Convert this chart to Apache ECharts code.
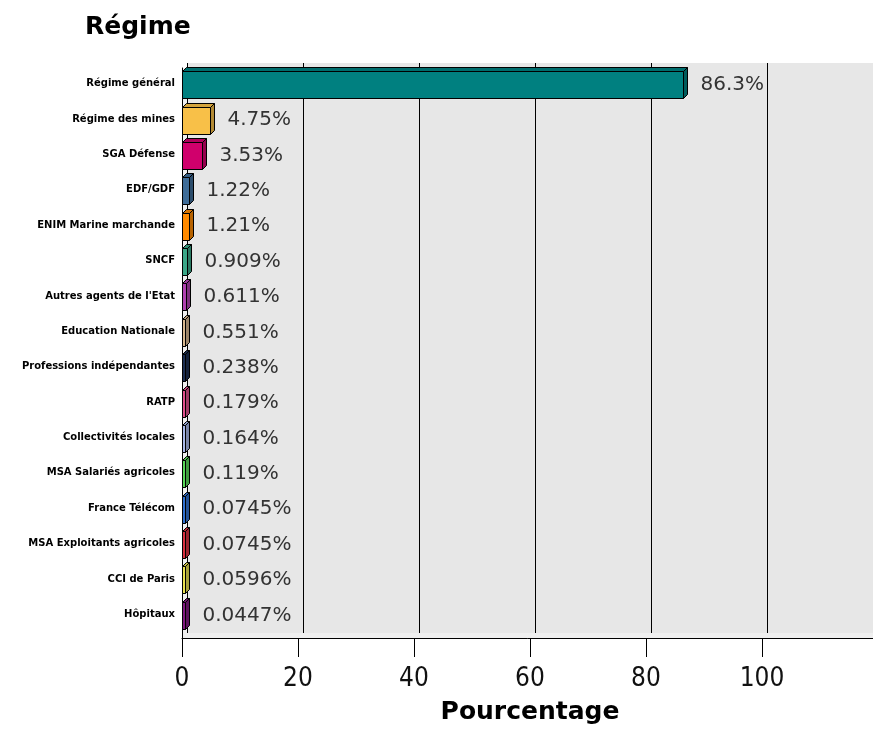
<!DOCTYPE html>
<html><head><meta charset="utf-8">
<script src="https://cdn.jsdelivr.net/npm/echarts@6/dist/echarts.min.js"></script>
<style>html,body{margin:0;padding:0;background:#fff}#c{width:873px;height:729px}</style>
</head><body><div id="c"></div>
<script>
const categories = ["Régime général","Régime des mines","SGA Défense","EDF/GDF","ENIM Marine marchande","SNCF","Autres agents de l'Etat","Education Nationale","Professions indépendantes","RATP","Collectivités locales","MSA Salariés agricoles","France Télécom","MSA Exploitants agricoles","CCI de Paris","Hôpitaux"];
const values = [86.3, 4.75, 3.53, 1.22, 1.21, 0.909, 0.611, 0.551, 0.238, 0.179, 0.164, 0.119, 0.0745, 0.0745, 0.0596, 0.0447];
const barColors = ['#008080','#F8C048','#D0006C','#3E6C98','#FF8A00','#3AA888','#B040B0','#D8B890','#1C2E52','#E0508C','#A8B8E8','#58D858','#3070D0','#D83040','#E8E050','#801880'];
const axisMin = 0, axisMax = 120, axisStep = 20;

function shade(hex, f){
  const n = parseInt(hex.slice(1),16);
  const r = Math.round(((n>>16)&255)*f), g = Math.round(((n>>8)&255)*f), b = Math.round((n&255)*f);
  return 'rgb('+r+','+g+','+b+')';
}

const chart = echarts.init(document.getElementById('c'), null, {renderer:'canvas'});
const option = {
  animation:false,
  backgroundColor:'#fff',
  title:{text:'Régime', left:80, top:10, textStyle:{fontFamily:'DejaVu Sans', fontWeight:'bold', fontSize:25, color:'#000'}},
  grid:[
    {left:182, top:68, width:696, height:570, show:true, backgroundColor:'#efefef', borderWidth:0, z:0, outerBoundsMode:'none', containLabel:false},
    {left:187, top:63, width:696, height:570, show:true, backgroundColor:'#e7e7e7', borderWidth:0, z:1, outerBoundsMode:'none', containLabel:false},
    {left:182, top:66, width:696, height:566, show:false, outerBoundsMode:'none', containLabel:false}
  ],
  xAxis:[
    {gridIndex:0, type:'value', min:axisMin, max:axisMax, interval:axisStep, z:4,
     axisLine:{show:true, lineStyle:{color:'#000', width:1}},
     axisTick:{show:true, length:19, lineStyle:{color:'#000'}},
     axisLabel:{show:true, margin:28, fontFamily:'"DejaVu Sans Condensed", "Liberation Sans", sans-serif', fontSize:26, color:'#111',
       formatter:function(v){return v>100?'':String(v);}},
     splitLine:{show:false},
     name:'Pourcentage', nameLocation:'middle', nameGap:62,
     nameTextStyle:{fontFamily:'DejaVu Sans', fontWeight:'bold', fontSize:25, color:'#000'}},
    {gridIndex:1, type:'value', min:axisMin, max:axisMax, interval:axisStep, z:2,
     axisLine:{show:false}, axisTick:{show:false}, axisLabel:{show:false},
     splitLine:{show:true, lineStyle:{color:'#000', width:1}}},
    {gridIndex:2, type:'value', min:axisMin, max:axisMax, show:false}
  ],
  yAxis:[
    {gridIndex:0, type:'value', z:4, axisLine:{show:true, lineStyle:{color:'#000'}}, axisTick:{show:false}, axisLabel:{show:false}, splitLine:{show:false}},
    {gridIndex:1, type:'value', show:false, splitLine:{show:false}},
    {gridIndex:2, type:'category', data:categories, inverse:true,
     axisLine:{show:false}, axisTick:{show:false}, splitLine:{show:false},
     axisLabel:{margin:7, fontFamily:'DejaVu Sans', fontWeight:'bold', fontSize:10, color:'#000'}}
  ],
  series:[{
    type:'custom', xAxisIndex:2, yAxisIndex:2, z:5, clip:false,
    data: values.map((v,i)=>[v,i]),
    encode:{x:0, y:1},
    renderItem:function(params, api){
      const i = params.dataIndex;
      const v = api.value(0);
      const p0 = api.coord([0, api.value(1)]);
      const p1 = api.coord([v, api.value(1)]);
      const band = api.size([0,1])[1];
      const h = Math.round(band*0.75);
      const d = 4;
      const x0 = Math.round(p0[0])+0.5;
      const x1 = Math.max(Math.round(p1[0])+0.5, x0+3);
      const y0 = Math.round(p0[1]-h/2+1)+0.5;
      const c = barColors[i];
      return {type:'group', children:[
        {type:'polygon', shape:{points:[[x0,y0],[x0+d,y0-d],[x1+d,y0-d],[x1,y0]]}, style:{fill:shade(c,0.85), stroke:'#000', lineWidth:1}},
        {type:'polygon', shape:{points:[[x1,y0],[x1+d,y0-d],[x1+d,y0+h-d],[x1,y0+h]]}, style:{fill:shade(c,0.72), stroke:'#000', lineWidth:1}},
        {type:'rect', shape:{x:x0, y:y0, width:x1-x0, height:h}, style:{fill:c, stroke:'#000', lineWidth:1}},
        {type:'text', style:{text:v+'%', x:x1+d+13, y:p0[1]+1, verticalAlign:'middle', align:'left', font:'20px "DejaVu Sans"', fill:'#333'}}
      ]};
    }
  }]
};
chart.setOption(option);
</script></body></html>
